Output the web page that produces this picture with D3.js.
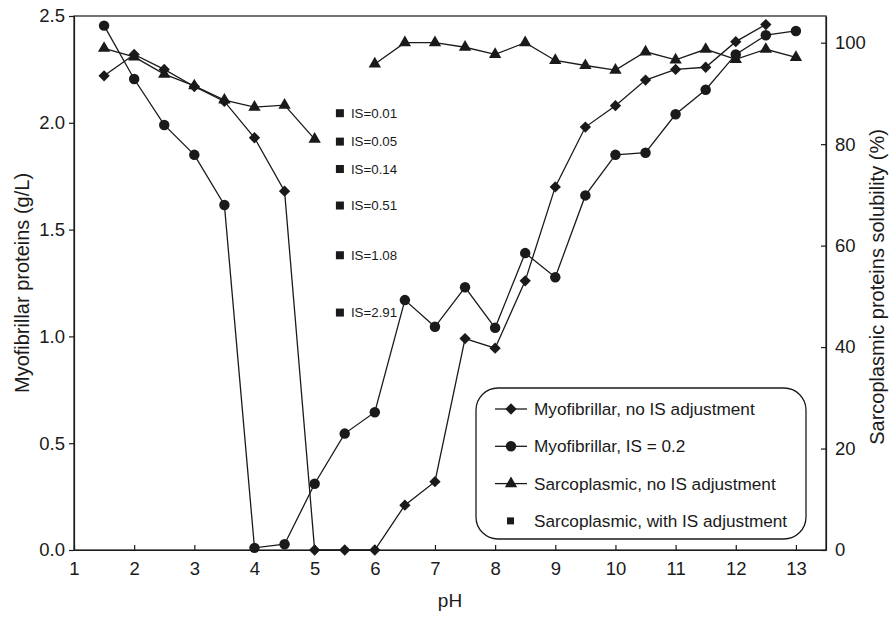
<!DOCTYPE html>
<html>
<head>
<meta charset="utf-8">
<script src="https://cdn.jsdelivr.net/npm/d3@7"></script>
<style>
  body { margin: 0; background: #fff; }
  svg { font-family: "Liberation Sans", Arial, Helvetica, sans-serif; }
</style>
</head>
<body>
<div id="chart"></div>
<script>
// pH values and readings (left axis g/L, right axis %)
const myoNoIS = [
  [1.5, 2.22], [2, 2.32], [2.5, 2.25], [3, 2.17], [3.5, 2.10], [4, 1.93],
  [4.5, 1.68], [5, 0], [5.5, 0], [6, 0], [6.5, 0.21], [7, 0.32],
  [7.5, 0.99], [8, 0.945], [8.5, 1.26], [9, 1.70], [9.5, 1.98], [10, 2.08],
  [10.5, 2.20], [11, 2.25], [11.5, 2.26], [12, 2.38], [12.5, 2.46]
];
const myoIS02 = [
  [1.5, 2.455], [2, 2.205], [2.5, 1.99], [3, 1.85], [3.5, 1.615], [4, 0.01],
  [4.5, 0.027], [5, 0.31], [5.5, 0.545], [6, 0.645], [6.5, 1.17], [7, 1.045],
  [7.5, 1.23], [8, 1.04], [8.5, 1.39], [9, 1.277], [9.5, 1.66], [10, 1.85],
  [10.5, 1.86], [11, 2.04], [11.5, 2.155], [12, 2.32], [12.5, 2.41], [13, 2.43]
];
// null = no measurement (line breaks)
const sarcoNoIS = [
  [1.5, 98.9], [2, 97.2], [2.5, 93.8], [3, 91.5], [3.5, 88.7], [4, 87.3],
  [4.5, 87.7], [5, 81.0], [5.5, null], [6, 95.8], [6.5, 100], [7, 100],
  [7.5, 99.1], [8, 97.7], [8.5, 100], [9, 96.5], [9.5, 95.5], [10, 94.6],
  [10.5, 98.2], [11, 96.6], [11.5, 98.7], [12, 96.7], [12.5, 98.7], [13, 97.1]
];
const sarcoISpH = 5.42;
const sarcoISvalues = [86.1, 80.5, 75.1, 67.9, 58.1, 46.8];
const sarcoISlabels = ["IS=0.01", "IS=0.05", "IS=0.14", "IS=0.51", "IS=1.08", "IS=2.91"];

const xTicks = [1, 2, 3, 4, 5, 6, 7, 8, 9, 10, 11, 12, 13];
const leftTicks = [0, 0.5, 1.0, 1.5, 2.0, 2.5];
const rightTicks = [0, 20, 40, 60, 80, 100];
const legendLabels = [
  "Myofibrillar, no IS adjustment",
  "Myofibrillar, IS = 0.2",
  "Sarcoplasmic, no IS adjustment",
  "Sarcoplasmic, with IS adjustment"
];

const W = 893, H = 617;
const margin = { top: 16, right: 67, bottom: 67, left: 74 };
const innerW = W - margin.left - margin.right;
const innerH = H - margin.top - margin.bottom;
const ink = "#1a1a1a";

const svg = d3.select("#chart").append("svg")
  .attr("width", W).attr("height", H);
const g = svg.append("g")
  .attr("transform", `translate(${margin.left},${margin.top})`);

const x = d3.scaleLinear().domain([1, 13.5]).range([0, innerW]);
const yL = d3.scaleLinear().domain([0, 2.5]).range([innerH, 0]);
const yR = d3.scaleLinear().domain([0, 105.26]).range([innerH, 0]);

// frame
g.append("rect")
  .attr("width", innerW).attr("height", innerH)
  .attr("fill", "none").attr("stroke", ink).attr("stroke-width", 1.2);

// axes
const fontSize = "18.5px";
const xAxis = g.append("g").attr("transform", `translate(0,${innerH})`)
  .call(d3.axisBottom(x).tickValues(xTicks).tickSizeInner(-5).tickSizeOuter(0).tickPadding(12));
const leftAxis = g.append("g")
  .call(d3.axisLeft(yL).tickValues(leftTicks).tickFormat(d3.format(".1f")).tickSizeInner(5).tickSizeOuter(0).tickPadding(4));
const rightAxis = g.append("g").attr("transform", `translate(${innerW},0)`)
  .call(d3.axisRight(yR).tickValues(rightTicks).tickSizeInner(-5).tickSizeOuter(0).tickPadding(9));

[xAxis, leftAxis, rightAxis].forEach(a => {
  a.select(".domain").attr("stroke", ink).attr("stroke-width", 1.2);
  a.selectAll(".tick line").attr("stroke", ink).attr("stroke-width", 1.2);
  a.selectAll(".tick text").attr("fill", ink).style("font-size", fontSize);
});

// axis titles
svg.append("text")
  .attr("transform", `translate(22,${margin.top + innerH / 2}) rotate(-90)`)
  .attr("text-anchor", "middle").attr("dy", "0.35em")
  .attr("fill", ink).style("font-size", "20px")
  .text("Myofibrillar proteins (g/L)");
svg.append("text")
  .attr("transform", `translate(877,${margin.top + innerH / 2 + 4}) rotate(-90)`)
  .attr("text-anchor", "middle").attr("dy", "0.35em")
  .attr("fill", ink).style("font-size", "20px")
  .text("Sarcoplasmic proteins solubility (%)");
svg.append("text")
  .attr("x", margin.left + innerW / 2).attr("y", 607)
  .attr("text-anchor", "middle")
  .attr("fill", ink).style("font-size", "19px")
  .text("pH");

// markers
const diamond = d3.symbol().type(d3.symbolSquare).size(64);
const circle = d3.symbol().type(d3.symbolCircle).size(86);
const triangle = d3.symbol().type(d3.symbolTriangle).size(66);

function drawSeries(data, yScale, sym, rotate) {
  const line = d3.line()
    .defined(d => d[1] !== null)
    .x(d => x(d[0])).y(d => yScale(d[1]));
  g.append("path").datum(data)
    .attr("d", line)
    .attr("fill", "none").attr("stroke", ink).attr("stroke-width", 1.3);
  g.append("g").selectAll("path")
    .data(data.filter(d => d[1] !== null))
    .join("path")
    .attr("d", sym)
    .attr("transform", d => `translate(${x(d[0])},${yScale(d[1])})${rotate ? " rotate(45)" : ""}`)
    .attr("fill", ink);
}

drawSeries(sarcoNoIS, yR, triangle, false);
drawSeries(myoNoIS, yL, diamond, true);
drawSeries(myoIS02, yL, circle, false);

// sarcoplasmic with IS adjustment (points + labels)
const isPts = g.append("g").selectAll("g")
  .data(sarcoISvalues.map((v, i) => ({ v, label: sarcoISlabels[i] })))
  .join("g")
  .attr("transform", d => `translate(${x(sarcoISpH)},${yR(d.v)})`);
isPts.append("rect")
  .attr("x", -4).attr("y", -4).attr("width", 8).attr("height", 8)
  .attr("fill", ink);
isPts.append("text")
  .attr("x", 11).attr("dy", "0.35em")
  .attr("fill", ink).style("font-size", "13.3px")
  .text(d => d.label);

// legend
const legend = g.append("g").attr("transform", `translate(${476 - margin.left},${388 - margin.top})`);
legend.append("rect")
  .attr("width", 330).attr("height", 151)
  .attr("rx", 22).attr("ry", 22)
  .attr("fill", "#fff").attr("stroke", ink).attr("stroke-width", 1.3);
const legendSyms = [
  { sym: diamond, rotate: true, line: true },
  { sym: circle, rotate: false, line: true },
  { sym: triangle, rotate: false, line: true },
  { sym: null, rotate: false, line: false }
];
legendLabels.forEach((label, i) => {
  const row = legend.append("g").attr("transform", `translate(0,${21 + i * 37.3})`);
  const s = legendSyms[i];
  if (s.line) {
    row.append("line").attr("x1", 19).attr("x2", 51)
      .attr("stroke", ink).attr("stroke-width", 1.3);
  }
  if (s.sym) {
    row.append("path").attr("d", s.sym)
      .attr("transform", `translate(35,0)${s.rotate ? " rotate(45)" : ""}`)
      .attr("fill", ink);
  } else {
    row.append("rect").attr("x", 31).attr("y", -3.5)
      .attr("width", 7).attr("height", 7).attr("fill", ink);
  }
  row.append("text").attr("x", 58).attr("dy", "0.35em")
    .attr("fill", ink).style("font-size", "17.2px")
    .text(label);
});
</script>
</body>
</html>
